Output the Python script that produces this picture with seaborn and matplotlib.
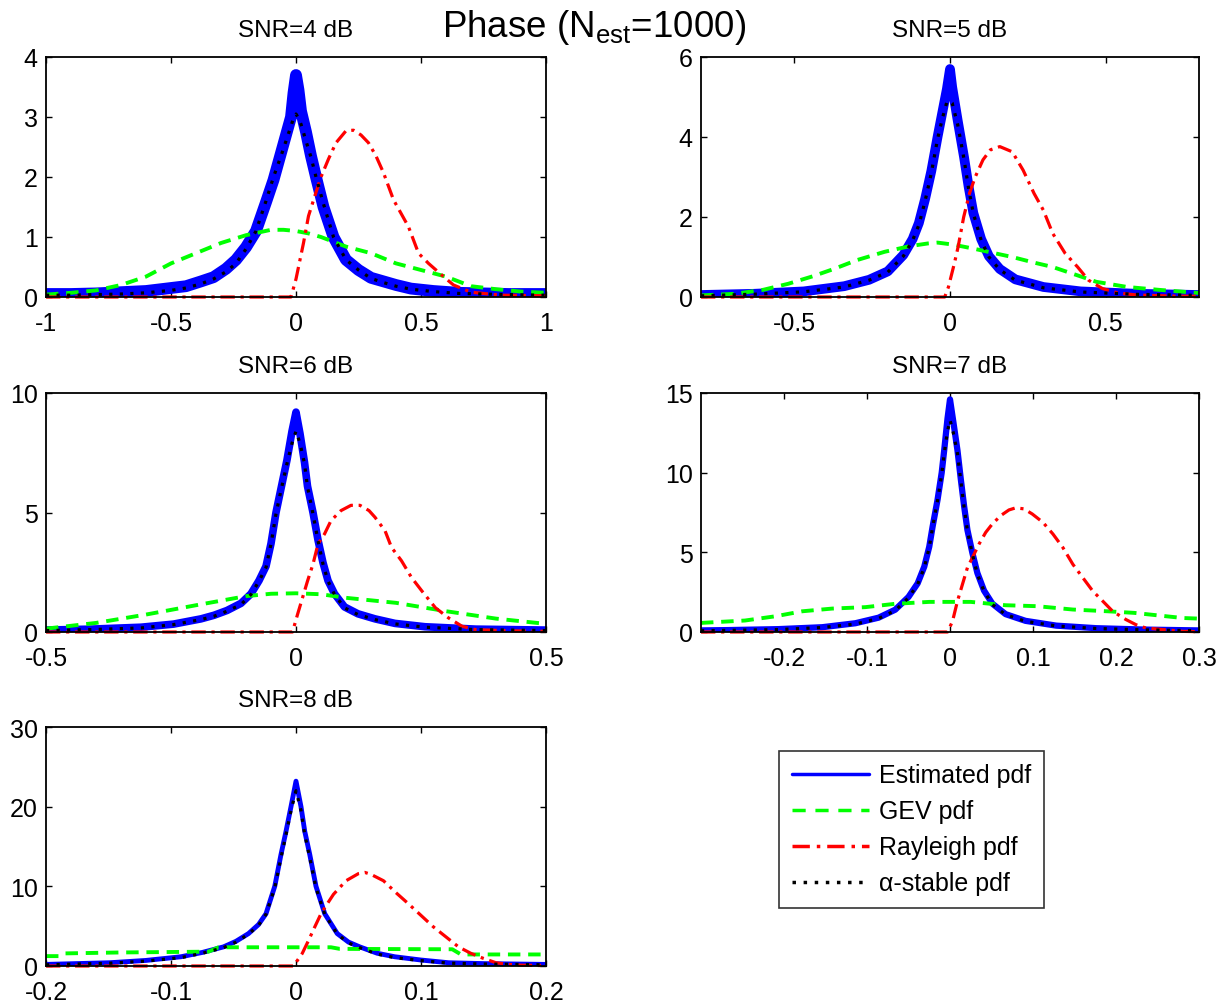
import numpy as np
import pandas as pd
import matplotlib
matplotlib.use("Agg")
import matplotlib.pyplot as plt
from matplotlib.lines import Line2D
import seaborn as sns

# ---------------- data ----------------
snr_titles = ["SNR=4 dB", "SNR=5 dB", "SNR=6 dB", "SNR=7 dB", "SNR=8 dB"]

# SNR = 4 dB
x4 = [-1.0, -0.9, -0.8, -0.7, -0.6, -0.5, -0.44, -0.38, -0.33, -0.28, -0.24, -0.2, -0.16, -0.12,
      -0.09, -0.06, -0.04, -0.02, -0.01, 0.0, 0.01, 0.02, 0.04, 0.06, 0.08, 0.11, 0.15, 0.2, 0.25,
      0.3, 0.35, 0.4, 0.46, 0.55, 0.65, 0.75, 0.85, 1.0]
est4 = [0.05, 0.05, 0.06, 0.08, 0.1, 0.15, 0.18, 0.26, 0.33, 0.47, 0.62, 0.83, 1.1, 1.58, 1.95,
        2.4, 2.7, 3.0, 3.4, 3.7, 3.45, 3.1, 2.75, 2.35, 2.0, 1.5, 1.0, 0.62, 0.45, 0.32, 0.26,
        0.2, 0.14, 0.1, 0.07, 0.06, 0.05, 0.05]
stab4 = [0.03, 0.03, 0.04, 0.05, 0.07, 0.11, 0.15, 0.22, 0.3, 0.42, 0.56, 0.8, 1.1, 1.6, 2.0,
         2.35, 2.6, 2.85, 2.98, 3.05, 2.98, 2.88, 2.6, 2.33, 2.0, 1.55, 1.0, 0.62, 0.45, 0.31,
         0.24, 0.18, 0.13, 0.09, 0.06, 0.05, 0.04, 0.03]
gev4_x = [-1.0, -0.9, -0.8, -0.7, -0.6, -0.5, -0.4, -0.3, -0.2, -0.1, -0.05, 0.0, 0.05, 0.1,
          0.2, 0.3, 0.4, 0.5, 0.6, 0.7, 0.8, 0.9, 1.0]
gev4 = [0.04, 0.07, 0.11, 0.2, 0.34, 0.56, 0.73, 0.9, 1.03, 1.12, 1.12, 1.1, 1.06, 1.0, 0.84,
        0.73, 0.56, 0.45, 0.34, 0.18, 0.13, 0.09, 0.07]
ray4_x = [-1.0, -0.5, -0.02, 0.0, 0.03, 0.05, 0.075, 0.1, 0.13, 0.16, 0.2, 0.23, 0.26, 0.29,
          0.32, 0.35, 0.39, 0.45, 0.49, 0.53, 0.59, 0.63, 0.7, 0.82, 1.0]
ray4 = [0.0, 0.0, 0.0, 0.3, 0.9, 1.35, 1.68, 2.0, 2.3, 2.57, 2.77, 2.78, 2.7, 2.57, 2.35, 2.07,
        1.62, 1.17, 0.73, 0.56, 0.34, 0.2, 0.08, 0.03, 0.02]

# SNR = 5 dB
x5 = [-0.8, -0.63, -0.47, -0.34, -0.26, -0.2, -0.15, -0.12, -0.1, -0.08, -0.06, -0.04, -0.025,
      -0.01, 0.0, 0.007, 0.025, 0.045, 0.06, 0.075, 0.1, 0.125, 0.16, 0.21, 0.3, 0.42, 0.6, 0.8]
est5 = [0.05, 0.08, 0.14, 0.27, 0.43, 0.64, 1.05, 1.45, 1.85, 2.45, 3.15, 4.0, 4.6, 5.2, 5.7,
        5.25, 4.4, 3.5, 2.75, 2.1, 1.45, 1.02, 0.7, 0.44, 0.25, 0.14, 0.08, 0.05]
stab5 = [0.03, 0.07, 0.13, 0.25, 0.42, 0.62, 1.02, 1.42, 1.8, 2.4, 3.1, 3.95, 4.45, 4.88, 4.9,
         4.85, 4.3, 3.45, 2.7, 2.09, 1.42, 1.0, 0.68, 0.42, 0.23, 0.125, 0.067, 0.04]
gev5_x = [-0.8, -0.69, -0.6, -0.52, -0.44, -0.37, -0.3, -0.21, -0.13, -0.07, -0.04, 0.01, 0.075,
          0.14, 0.2, 0.27, 0.33, 0.41, 0.47, 0.57, 0.67, 0.8]
gev5 = [0.04, 0.08, 0.18, 0.33, 0.52, 0.71, 0.92, 1.13, 1.27, 1.34, 1.36, 1.31, 1.21, 1.1, 1.0,
        0.86, 0.75, 0.54, 0.38, 0.25, 0.18, 0.1]
ray5_x = [-0.8, -0.4, -0.017, -0.005, 0.014, 0.026, 0.044, 0.063, 0.081, 0.106, 0.13, 0.16, 0.2,
          0.235, 0.27, 0.3, 0.33, 0.37, 0.41, 0.445, 0.49, 0.54, 0.6, 0.73, 0.8]
ray5 = [0.0, 0.0, 0.0, 0.25, 0.84, 1.25, 2.0, 2.6, 3.0, 3.43, 3.68, 3.76, 3.63, 3.17, 2.59, 2.17,
        1.59, 1.09, 0.75, 0.42, 0.21, 0.1, 0.05, 0.02, 0.02]

# SNR = 6 dB
x6 = [-0.5, -0.41, -0.31, -0.245, -0.19, -0.164, -0.138, -0.11, -0.09, -0.074, -0.06, -0.05,
      -0.04, -0.03, -0.018, -0.008, 0.0, 0.008, 0.017, 0.023, 0.034, 0.044, 0.054, 0.064, 0.077,
      0.097, 0.124, 0.158, 0.198, 0.258, 0.36, 0.5]
est6 = [0.08, 0.12, 0.2, 0.33, 0.55, 0.7, 0.9, 1.2, 1.6, 2.15, 2.75, 3.7, 5.0, 6.0, 7.2, 8.4,
        9.2, 8.3, 7.1, 6.1, 5.0, 3.85, 2.9, 2.15, 1.6, 1.05, 0.76, 0.55, 0.36, 0.22, 0.12, 0.08]
stab6 = [0.06, 0.1, 0.17, 0.31, 0.52, 0.66, 0.87, 1.15, 1.57, 2.13, 2.7, 3.68, 4.94, 5.93, 7.05,
         7.9, 8.4, 7.9, 7.05, 6.07, 4.94, 3.82, 2.84, 2.13, 1.57, 1.01, 0.73, 0.52, 0.34, 0.2,
         0.1, 0.06]
gev6_x = [-0.5, -0.4, -0.3, -0.2, -0.1, -0.05, 0.0, 0.05, 0.1, 0.2, 0.3, 0.4, 0.5]
gev6 = [0.14, 0.38, 0.73, 1.12, 1.5, 1.6, 1.62, 1.58, 1.43, 1.22, 0.87, 0.56, 0.34]
ray6_x = [-0.5, -0.2, -0.007, 0.003, 0.013, 0.023, 0.034, 0.044, 0.057, 0.07, 0.09, 0.11, 0.128,
          0.146, 0.158, 0.178, 0.191, 0.211, 0.231, 0.252, 0.279, 0.305, 0.332, 0.359, 0.426, 0.5]
ray6 = [0.0, 0.0, 0.0, 0.73, 1.43, 2.13, 2.84, 3.68, 4.1, 4.66, 5.08, 5.3, 5.3, 5.08, 4.8, 4.24,
        3.54, 2.98, 2.28, 1.71, 1.01, 0.59, 0.24, 0.1, 0.05, 0.03]

# SNR = 7 dB
x7 = [-0.3, -0.268, -0.207, -0.154, -0.114, -0.086, -0.066, -0.05, -0.039, -0.031, -0.025,
      -0.021, -0.015, -0.01, -0.007, -0.003, 0.0, 0.004, 0.009, 0.013, 0.017, 0.021, 0.027,
      0.033, 0.041, 0.051, 0.067, 0.091, 0.128, 0.176, 0.236, 0.3]
est7 = [0.1, 0.12, 0.18, 0.3, 0.55, 0.9, 1.4, 2.2, 3.05, 4.1, 5.35, 6.6, 8.3, 10.0, 11.4, 13.4,
        14.6, 13.2, 11.4, 9.6, 7.9, 6.4, 4.95, 3.7, 2.6, 1.78, 1.12, 0.7, 0.4, 0.24, 0.15, 0.1]
stab7 = [0.08, 0.1, 0.15, 0.28, 0.5, 0.85, 1.35, 2.15, 2.99, 4.04, 5.3, 6.57, 8.25, 9.9, 11.2,
         12.6, 13.3, 12.5, 11.2, 9.5, 7.83, 6.36, 4.88, 3.62, 2.57, 1.73, 1.09, 0.67, 0.38,
         0.22, 0.13, 0.08]
gev7_x = [-0.3, -0.247, -0.21, -0.178, -0.142, -0.102, -0.066, -0.025, 0.025, 0.067, 0.105,
          0.148, 0.19, 0.222, 0.28, 0.3]
gev7 = [0.57, 0.72, 0.99, 1.3, 1.47, 1.56, 1.77, 1.89, 1.89, 1.68, 1.62, 1.41, 1.3, 1.2, 0.88,
        0.84]
ray7_x = [-0.3, -0.15, -0.003, 0.003, 0.009, 0.015, 0.021, 0.027, 0.035, 0.043, 0.051, 0.061,
          0.071, 0.079, 0.089, 0.099, 0.112, 0.124, 0.136, 0.148, 0.16, 0.172, 0.184, 0.196,
          0.212, 0.224, 0.236, 0.257, 0.28, 0.3]
ray7 = [0.0, 0.0, 0.0, 0.67, 1.94, 2.99, 4.04, 4.67, 5.52, 6.25, 6.78, 7.3, 7.66, 7.79, 7.73,
        7.41, 6.88, 6.15, 5.3, 4.25, 3.41, 2.57, 1.94, 1.3, 0.78, 0.46, 0.25, 0.15, 0.04, 0.02]

# SNR = 8 dB
x8 = [-0.2, -0.149, -0.12, -0.092, -0.075, -0.058, -0.048, -0.038, -0.03, -0.024, -0.017,
      -0.012, -0.008, -0.004, 0.0, 0.004, 0.007, 0.011, 0.016, 0.023, 0.033, 0.042, 0.051,
      0.065, 0.079, 0.1, 0.122, 0.15, 0.2]
est8 = [0.2, 0.41, 0.7, 1.16, 1.7, 2.4, 3.1, 4.07, 5.2, 6.56, 10.0, 14.0, 16.9, 20.0, 23.2, 20.0,
        16.9, 14.0, 10.0, 6.56, 4.07, 3.0, 2.4, 1.6, 1.16, 0.75, 0.41, 0.3, 0.2]
stab8 = [0.15, 0.35, 0.62, 1.05, 1.6, 2.3, 3.0, 4.0, 5.1, 6.5, 9.8, 13.6, 16.5, 19.5, 22.0, 19.5,
         16.5, 13.6, 9.8, 6.5, 4.0, 2.9, 2.3, 1.5, 1.05, 0.68, 0.36, 0.25, 0.15]
gev8_x = [-0.2, -0.19, -0.186, -0.14, -0.07, -0.062, 0.0, 0.028, 0.035, 0.125, 0.132, 0.2]
gev8 = [1.24, 1.24, 1.58, 1.7, 1.8, 2.35, 2.35, 2.35, 2.15, 2.1, 1.45, 1.45]
ray8_x = [-0.2, -0.1, -0.002, 0.005, 0.01, 0.015, 0.02, 0.025, 0.03, 0.04, 0.05, 0.055, 0.06,
          0.07, 0.08, 0.09, 0.1, 0.11, 0.12, 0.13, 0.14, 0.15, 0.16, 0.17, 0.18, 0.2]
ray8 = [0.0, 0.0, 0.0, 1.58, 3.2, 4.9, 6.56, 7.8, 9.0, 10.7, 11.6, 11.75, 11.5, 10.7, 9.2, 7.8,
        6.35, 4.9, 3.65, 2.4, 1.58, 0.95, 0.41, 0.2, 0.1, 0.05]

xlims = [(-1, 1), (-0.8, 0.8), (-0.5, 0.5), (-0.3, 0.3), (-0.2, 0.2)]
ylims = [(0, 4), (0, 6), (0, 10), (0, 15), (0, 30)]
xticks = [[-1, -0.5, 0, 0.5, 1], [-0.5, 0, 0.5], [-0.5, 0, 0.5],
          [-0.2, -0.1, 0, 0.1, 0.2, 0.3], [-0.2, -0.1, 0, 0.1, 0.2]]
xticklabels = [["-1", "-0.5", "0", "0.5", "1"], ["-0.5", "0", "0.5"], ["-0.5", "0", "0.5"],
               ["-0.2", "-0.1", "0", "0.1", "0.2", "0.3"], ["-0.2", "-0.1", "0", "0.1", "0.2"]]
yticks = [[0, 1, 2, 3, 4], [0, 2, 4, 6], [0, 5, 10], [0, 5, 10, 15], [0, 10, 20, 30]]
legend_labels = ["Estimated pdf", "GEV pdf", "Rayleigh pdf", "\u03b1-stable pdf"]

panels = [
    (x4, est4, stab4, gev4_x, gev4, ray4_x, ray4),
    (x5, est5, stab5, gev5_x, gev5, ray5_x, ray5),
    (x6, est6, stab6, gev6_x, gev6, ray6_x, ray6),
    (x7, est7, stab7, gev7_x, gev7, ray7_x, ray7),
    (x8, est8, stab8, gev8_x, gev8, ray8_x, ray8),
]

# ---------------- styling ----------------
sns.set_style("ticks")
plt.rcParams["font.family"] = ["Liberation Sans", "DejaVu Sans"]
plt.rcParams["axes.unicode_minus"] = False
plt.rcParams["mathtext.fontset"] = "custom"
plt.rcParams["mathtext.rm"] = "Liberation Sans"
plt.rcParams["text.color"] = "black"
plt.rcParams["xtick.color"] = "black"
plt.rcParams["ytick.color"] = "black"

W, H = 1223, 1004
fig = plt.figure(figsize=(W / 100, H / 100), dpi=100)


def rect(l, t, r, b):
    return [l / W, 1 - b / H, (r - l) / W, (b - t) / H]


rects = [rect(46, 58, 546, 298), rect(701, 58, 1199, 298),
         rect(46, 394, 546, 633), rect(701, 394, 1199, 633),
         rect(46, 728, 546, 967)]
blue_lw = [8.5, 7.0, 5.5, 4.5, 3.5]

GREEN_LS = (0, (3.2, 2.0))
RED_LS = (0, (4.5, 1.8, 1.0, 1.8))
BLACK_LS = (0, (1.0, 2.3))

for i, (xe, ye, ys, xg, yg, xr, yr) in enumerate(panels):
    ax = fig.add_axes(rects[i])
    sns.lineplot(x=xe, y=ye, ax=ax, color=(0, 0, 1), lw=blue_lw[i], sort=False,
                 estimator=None, solid_joinstyle="round", solid_capstyle="butt")
    sns.lineplot(x=xg, y=yg, ax=ax, color=(0, 1, 0), lw=2.8, linestyle=GREEN_LS,
                 sort=False, estimator=None, clip_on=False)
    sns.lineplot(x=xr, y=yr, ax=ax, color=(1, 0, 0), lw=2.3, linestyle=RED_LS,
                 sort=False, estimator=None, clip_on=False)
    sns.lineplot(x=xe, y=ys, ax=ax, color="black", lw=2.3, linestyle=BLACK_LS,
                 sort=False, estimator=None, clip_on=False)
    ax.set_xlim(*xlims[i])
    ax.set_ylim(*ylims[i])
    ax.set_xticks(xticks[i])
    ax.set_xticklabels(xticklabels[i])
    ax.set_yticks(yticks[i])
    ax.set_yticklabels([str(v) for v in yticks[i]])
    ax.set_xlabel("")
    ax.set_ylabel("")
    ax.tick_params(axis="both", direction="in", top=True, right=True, length=4,
                   width=1, labelsize=18, colors="black")
    ax.tick_params(axis="x", pad=10)
    ax.tick_params(axis="y", pad=6)
    for sp in ax.spines.values():
        sp.set_visible(True)
        sp.set_color("black")
        sp.set_linewidth(1.3)
    ax.set_title(snr_titles[i], fontsize=17.5, pad=15, color="black")

fig.text(594 / W, 1 - 37 / H, r"Phase (N$_\mathregular{est}$=1000)", ha="center",
         va="baseline", fontsize=26.5, color="black")

handles = [
    Line2D([], [], color=(0, 0, 1), lw=2.5),
    Line2D([], [], color=(0, 1, 0), lw=2.5, linestyle=(0, (3.8, 2.8))),
    Line2D([], [], color=(1, 0, 0), lw=2.5, linestyle=(0, (5.0, 2.0, 1.0, 2.0))),
    Line2D([], [], color="black", lw=2.5, linestyle=(0, (1.0, 2.2))),
]
leg = fig.legend(handles, legend_labels, loc="upper left",
                 bbox_to_anchor=(779 / W, 1 - 752 / H), bbox_transform=fig.transFigure,
                 frameon=True, fancybox=False, edgecolor="black", fontsize=18,
                 handlelength=3.1, handletextpad=0.4, borderpad=0.5, labelspacing=0.48,
                 borderaxespad=0)
leg.get_frame().set_linewidth(1.2)

fig.savefig("out.png", dpi=100, facecolor="white")
